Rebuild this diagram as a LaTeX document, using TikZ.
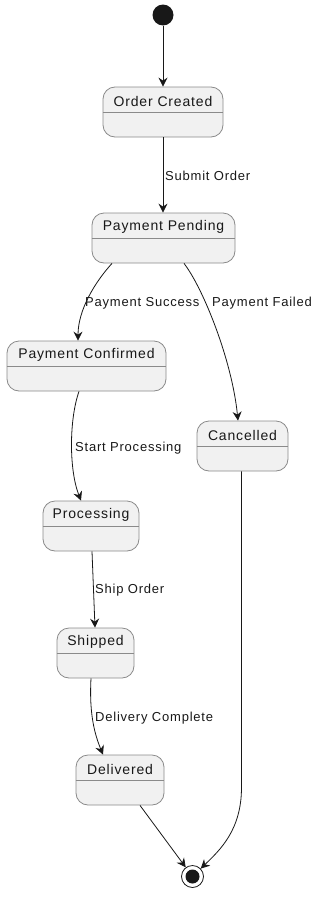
\documentclass[tikz,border=0pt]{standalone}
\usepackage{fontspec}
\setmainfont{Liberation Sans}[LetterSpace=6]
\usetikzlibrary{arrows.meta,calc}
\definecolor{boxfill}{HTML}{F1F1F1}
\definecolor{boxline}{HTML}{8A8A8A}
\definecolor{ink}{HTML}{181818}
\tikzset{
  statebox/.style={draw=boxline, line width=0.8pt, fill=boxfill, rounded corners=12pt,
    minimum height=50pt, inner sep=0pt},
  statetext/.style={font=\fontsize{14}{16}\selectfont, text=ink, inner sep=0pt},
  divider/.style={draw=boxline, line width=0.8pt},
  edgelabel/.style={font=\fontsize{13}{15}\selectfont, text=ink, inner sep=0pt, anchor=west},
  trans/.style={draw=ink, line width=0.8pt, -{Stealth[length=9pt,width=9pt,inset=3pt]}},
}
\newcommand{\mystate}[5]{%
  \node[statebox, minimum width=#4pt] (#1) at (#2,-#3-25) {};
  \node[statetext] (#1-t) at (#2,-#3-14) {#5};
  \draw[divider] ([yshift=-26pt]#1.north west) -- ([yshift=-26pt]#1.north east);
}
\begin{document}
\begin{tikzpicture}[x=1pt,y=1pt]
\useasboundingbox (0,0) rectangle (327,-902);
% initial and final
\node[circle, fill=ink, minimum size=21pt, inner sep=0pt] (start) at (163,-15) {};
\node[circle, draw=ink, line width=0.8pt, fill=white, minimum size=22pt, inner sep=0pt] (endc) at (192.5,-876.5) {};
\node[circle, fill=ink, minimum size=14pt, inner sep=0pt] (endin) at (192.5,-876.5) {};
% states
\mystate{oc}{163}{87}{120}{Order Created}
\mystate{pp}{163.5}{213}{143}{Payment Pending}
\mystate{pc}{86.5}{341}{159}{Payment Confirmed}
\mystate{ca}{242.5}{421}{91}{Cancelled}
\mystate{pr}{91}{501}{96}{Processing}
\mystate{sh}{95.5}{628}{77}{Shipped}
\mystate{de}{120}{755}{88}{Delivered}
% transitions
\draw[trans] (start.south) -- (start.south |- oc.north);
\draw[trans] (oc.south) -- (oc.south |- pp.north);
\draw[trans] ([xshift=-51.5pt]pp.south) .. controls (95,-282) and (78,-310) .. ([xshift=-8.5pt]pc.north);
\draw[trans] ([xshift=20.5pt]pp.south) .. controls (203,-288) and (232,-360) .. ([xshift=-4.5pt]ca.north);
\draw[trans] ([xshift=-7.5pt]pc.south) .. controls (69,-420) and (69,-470) .. ([xshift=-10pt]pr.north);
\draw[trans] ([xshift=1pt]pr.south) -- ([xshift=-0.5pt]sh.north);
\draw[trans] ([xshift=-4.5pt]sh.south) .. controls (89,-715) and (95,-735) .. ([xshift=-17pt]de.north);
\draw[trans] ([xshift=20pt]de.south) -- (endc);
\draw[trans] ([xshift=-1pt]ca.south) -- ++(0,-316) .. controls (241.5,-830) and (220,-850) .. (endc);
% labels
\node[edgelabel] (l1) at (165,-176) {Submit Order};
\node[edgelabel] (l2) at (85,-303) {Payment Success};
\node[edgelabel] (l3) at (212,-303) {Payment Failed};
\node[edgelabel] (l4) at (75,-448) {Start Processing};
\node[edgelabel] (l5) at (95,-590) {Ship Order};
\node[edgelabel] (l6) at (95,-718) {Delivery Complete};
\end{tikzpicture}
\end{document}
